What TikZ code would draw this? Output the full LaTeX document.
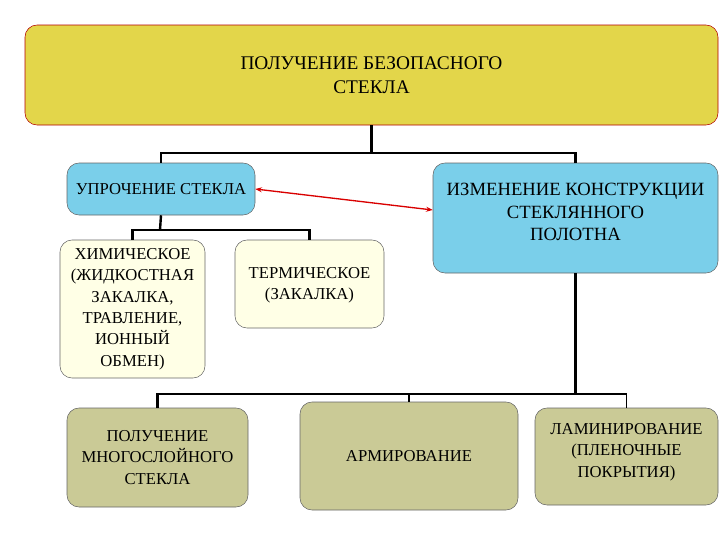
\documentclass[tikz,border=0pt]{standalone}
\usepackage{fontspec}
\setmainfont{Liberation Serif}
\usetikzlibrary{arrows.meta}
\definecolor{yel}{HTML}{E3D64A}
\definecolor{blu}{HTML}{7ACFEA}
\definecolor{crm}{HTML}{FFFFE6}
\definecolor{olv}{HTML}{CACA96}
\begin{document}
\begin{tikzpicture}[x=0.75pt,y=-0.75pt,
  box/.style={draw=black!60,rounded corners=9pt,align=center,inner sep=1pt},
  txt/.style={align=center,inner sep=0pt},
  ln/.style={line width=1.8pt,black}]
\useasboundingbox (0,0) rectangle (720,540);
\node[box,fill=yel,draw=red!70!black,minimum width=519.75pt,minimum height=75pt,font=\fontsize{14.5}{18}\selectfont] (top) at (371.5,75) {ПОЛУЧЕНИЕ БЕЗОПАСНОГО\\СТЕКЛА};
\node[box,fill=blu,minimum width=141pt,minimum height=39pt,font=\fontsize{12.5}{15}\selectfont] (upr) at (161,189) {УПРОЧЕНИЕ СТЕКЛА};
\node[box,fill=blu,minimum width=213.75pt,minimum height=82.5pt] (izm) at (575.5,218) {};
\node[txt,font=\fontsize{14}{17}\selectfont,anchor=north] (izmtext) at (575.5,183) {ИЗМЕНЕНИЕ КОНСТРУКЦИИ\\СТЕКЛЯННОГО\\ПОЛОТНА};
\node[box,fill=crm,minimum width=108.75pt,minimum height=103.5pt,font=\fontsize{12.5}{16}\selectfont] (chem) at (132.5,309) {ХИМИЧЕСКОЕ\\(ЖИДКОСТНАЯ\\ЗАКАЛКА,\\ТРАВЛЕНИЕ,\\ИОННЫЙ\\ОБМЕН)};
\node[box,fill=crm,minimum width=111.75pt,minimum height=66pt] (therm) at (309.5,284) {};
\node[txt,font=\fontsize{12.5}{16}\selectfont] (thermtext) at (309.5,285) {ТЕРМИЧЕСКОЕ\\(ЗАКАЛКА)};
\node[box,fill=olv,minimum width=135.75pt,minimum height=74.25pt,font=\fontsize{12.5}{16}\selectfont] (b1) at (157.5,457.5) {ПОЛУЧЕНИЕ\\МНОГОСЛОЙНОГО\\СТЕКЛА};
\node[box,fill=olv,minimum width=163.5pt,minimum height=81pt,font=\fontsize{12.5}{16}\selectfont] (b2) at (409,456) {АРМИРОВАНИЕ};
\node[box,fill=olv,minimum width=137.25pt,minimum height=72.75pt] (b3) at (626.5,456.5) {};
\node[txt,font=\fontsize{12.5}{16}\selectfont] (b3text) at (626.5,452) {ЛАМИНИРОВАНИЕ\\(ПЛЕНОЧНЫЕ\\ПОКРЫТИЯ)};
\coordinate (j1) at (371.5,153);
\coordinate (j2) at (160,230);
\coordinate (j3) at (575.5,394);
\draw[ln] (top.south) -- (j1);
\draw[ln] (upr.north) |- (j1) -| (izm.north);
\draw[ln] (upr.south) -- (j2);
\draw[ln] (chem.north) |- (j2) -| (therm.north);
\draw[ln] (izm.south) -- (j3);
\draw[ln] (b1.north) |- (j3);
\draw[black,line width=0.8pt] (j3) -| (b3.north);
\draw[ln] (b2.north) -- (b2.north |- j3);
\draw[red!85!black,line width=1pt,{Stealth[length=5pt]}-{Stealth[length=5pt]}] (upr.east) -- ([yshift=6pt]izm.west);
\end{tikzpicture}
\end{document}
